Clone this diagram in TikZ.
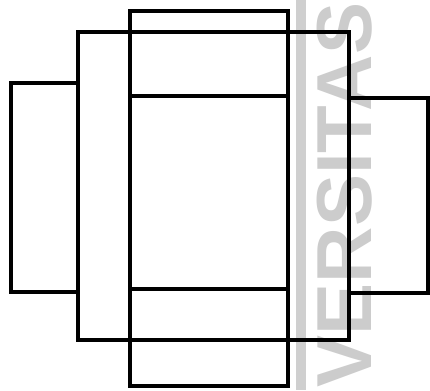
\documentclass[tikz,border=0pt]{standalone}
\usepackage{fontspec}
\newfontfamily\wmfont{Liberation Sans}
\begin{document}
\begin{tikzpicture}[x=1pt,y=-1pt,
  outline/.style={draw=black,line width=3.6pt,line join=miter},
  wmark/.style={fill=black!20,draw=none}]
\useasboundingbox (0,0) rectangle (430,390);
\fill[white] (0,0) rectangle (430,390);
% watermark
\fill[black!19] (296,0) rectangle (306,390);
\node[rotate=90,text=black!20,font=\wmfont\bfseries\fontsize{78}{78}\selectfont,inner sep=0pt] (wm) at (345,195) {VERSITAS};
% shapes
\draw[outline] (130,11) rectangle (288,386);
\draw[outline] (78,32) rectangle (349,340);
\draw[outline] (130,96) -- (288,96);
\draw[outline] (130,289) -- (288,289);
\draw[outline] (11,83) rectangle (78,292);
\draw[outline] (349,98) rectangle (428,293);
\end{tikzpicture}
\end{document}
